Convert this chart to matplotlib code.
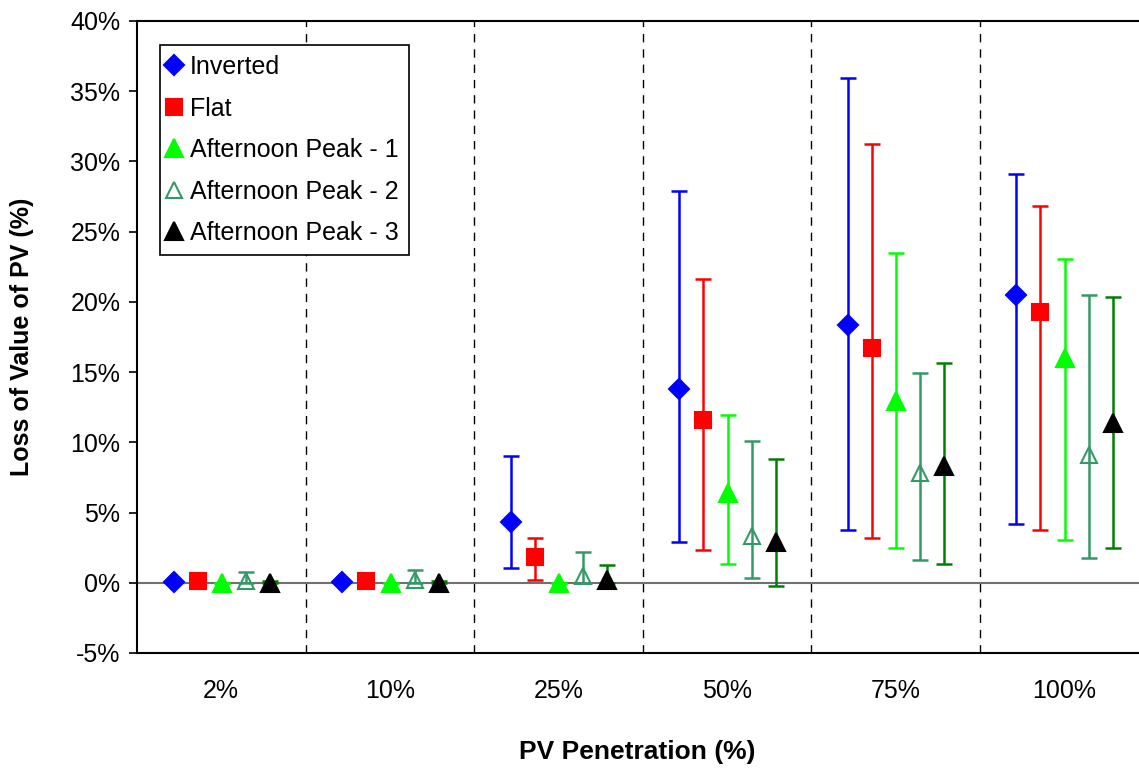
import matplotlib
matplotlib.use('Agg')
import matplotlib.pyplot as plt
from matplotlib.ticker import FuncFormatter
import numpy as np

plt.rcParams['font.family'] = ['Liberation Sans', 'DejaVu Sans']
plt.rcParams['axes.unicode_minus'] = False

# PV penetration categories
categories = ['2%', '10%', '25%', '50%', '75%', '100%']

# loss of value (%) : mean, upper and lower end of the range
inverted = [0.05, 0.05, 4.3, 13.8, 18.35, 20.47]
inverted_hi = [0.05, 0.05, 9.0, 27.86, 35.97, 29.13]
inverted_lo = [0.05, 0.05, 1.05, 2.9, 3.73, 4.17]

flat = [0.12, 0.12, 1.8, 11.6, 16.74, 19.27]
flat_hi = [0.12, 0.12, 3.16, 21.6, 31.26, 26.86]
flat_lo = [0.12, 0.12, 0.18, 2.33, 3.16, 3.73]

peak1 = [0.0, 0.0, 0.0, 6.4, 12.95, 16.0]
peak1_hi = [0.0, 0.0, 0.0, 11.96, 23.48, 23.05]
peak1_lo = [0.0, 0.0, 0.0, 1.31, 2.45, 3.02]

peak2 = [0.15, 0.2, 0.46, 3.3, 7.84, 9.1]
peak2_hi = [0.75, 0.9, 2.2, 10.1, 14.94, 20.5]
peak2_lo = [0.0, 0.0, 0.0, 0.32, 1.62, 1.74]

peak3 = [0.0, 0.0, 0.2, 2.9, 8.3, 11.4]
peak3_hi = [0.1, 0.1, 1.3, 8.84, 15.65, 20.36]
peak3_lo = [0.0, 0.0, 0.0, -0.23, 1.31, 2.45]

series = [
    ('Inverted', inverted, inverted_lo, inverted_hi, 'D', 'blue', 'blue', 'blue', 10.5),
    ('Flat', flat, flat_lo, flat_hi, 's', 'red', 'red', 'red', 11.5),
    ('Afternoon Peak - 1', peak1, peak1_lo, peak1_hi, '^', '#00ff00', '#00ff00', '#00ff00', 12.5),
    ('Afternoon Peak - 2', peak2, peak2_lo, peak2_hi, '^', 'none', '#339966', '#339966', 12),
    ('Afternoon Peak - 3', peak3, peak3_lo, peak3_hi, '^', 'black', 'black', '#008000', 12.5),
]

fig = plt.figure(figsize=(11.39, 7.68), dpi=100)
ax = fig.add_axes([137/1139, 115/768, 1011/1139, 632/768])

x0 = np.arange(len(categories))
for k, (name, mid, lo, hi, mk, fc, ec, errc, ms) in enumerate(series):
    mid = np.array(mid)
    x = x0 + 0.505 + (k - 2) * 0.143
    yerr = [mid - np.array(lo), np.array(hi) - mid]
    ax.errorbar(x, mid, yerr=yerr, fmt='none', ecolor=errc, elinewidth=1.8,
                capsize=5.5, capthick=1.8, zorder=3)
    ax.plot(x, mid, linestyle='none', marker=mk, markersize=ms,
            markerfacecolor=fc, markeredgecolor=ec, markeredgewidth=1.5,
            label=name, zorder=4)

ax.axhline(0, color='#707070', lw=1.5, zorder=2)
for b in range(1, len(categories)):
    ax.axvline(b, color='black', lw=1, linestyle=(0, (6, 5)), zorder=1)

ax.set_xlim(0, len(categories))
ax.set_ylim(-5, 40)
ax.set_yticks(np.arange(-5, 41, 5))
ax.yaxis.set_major_formatter(FuncFormatter(lambda v, p: '%d%%' % v))
ax.set_xticks(x0 + 0.5)
ax.set_xticklabels(categories)
ax.tick_params(axis='x', length=0, pad=19, labelsize=18)
ax.tick_params(axis='y', length=6, width=1.2, labelsize=18, pad=6)
for s in ax.spines.values():
    s.set_linewidth(1.5)

fig.text(22/1139, 1 - 337/768, 'Loss of Value of PV (%)', rotation=90,
         ha='center', va='center', fontsize=18, fontweight='bold')
fig.text(637/1139, 1 - 752/768, 'PV Penetration (%)',
         ha='center', va='center', fontsize=19, fontweight='bold')

leg = ax.legend(loc='upper left', bbox_to_anchor=(0.0228, 0.962), fontsize=18,
                frameon=True, fancybox=False, edgecolor='black', framealpha=1,
                handlelength=0.3, handletextpad=0.5, labelspacing=0.7,
                borderpad=0.4, borderaxespad=0)
leg.get_frame().set_linewidth(1.2)

fig.savefig('out.png', dpi=100)
